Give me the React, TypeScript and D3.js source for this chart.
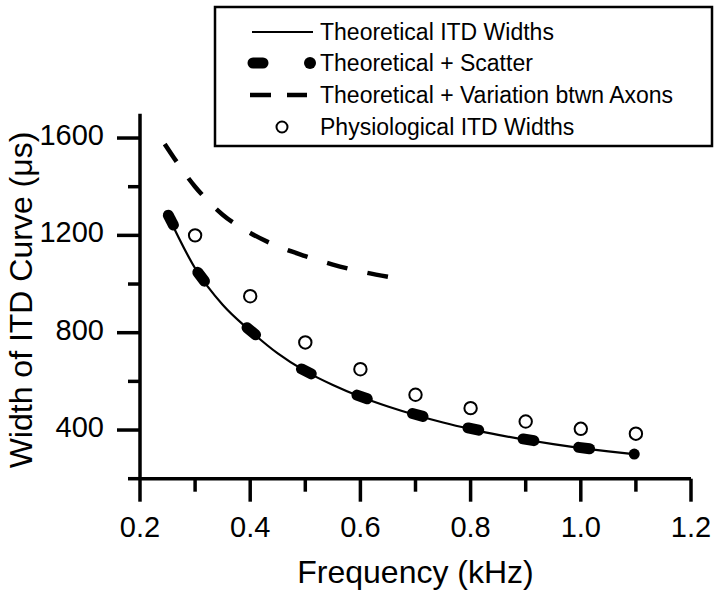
import React, { useRef, useLayoutEffect, useState } from 'react';
import * as d3 from 'd3';

// Theoretical ITD widths (solid line)
const theoFreq = [0.25, 0.3, 0.35, 0.4, 0.45, 0.5, 0.55, 0.6, 0.65, 0.7, 0.75, 0.8, 0.85, 0.9, 0.95, 1.0, 1.05, 1.1];
const theoWidth = [1285, 1065, 915, 808, 715, 642, 585, 537, 497, 462, 431, 404, 380, 360, 342, 326, 312, 300];

// Theoretical + Scatter (thick blobs along the curve)
const scatterFreq = [0.256, 0.311, 0.402, 0.502, 0.603, 0.704, 0.805, 0.905, 1.006, 1.097];
const scatterWidth = [1263, 1030, 806, 641, 536, 462, 404, 360, 326, 301];

// Theoretical + Variation btwn Axons (dashed)
const varFreq = [0.245, 0.3, 0.35, 0.4, 0.45, 0.5, 0.55, 0.6, 0.65];
const varWidth = [1575, 1400, 1285, 1210, 1155, 1115, 1080, 1052, 1030];

// Physiological ITD widths (open circles)
const physFreq = [0.3, 0.4, 0.5, 0.6, 0.7, 0.8, 0.9, 1.0, 1.1];
const physWidth = [1200, 950, 760, 650, 545, 490, 435, 405, 385];

const xMajorTicks = [0.2, 0.4, 0.6, 0.8, 1.0, 1.2];
const xMinorTicks = [0.3, 0.5, 0.7, 0.9, 1.1];
const yMajorTicks = [400, 800, 1200, 1600];
const yMinorTicks = [200, 600, 1000, 1400];

const legendLabels = [
  'Theoretical ITD Widths',
  'Theoretical + Scatter',
  'Theoretical + Variation btwn Axons',
  'Physiological ITD Widths',
];

const xTitle = 'Frequency (kHz)';
const yTitle = 'Width of ITD Curve (\u03BCs)';

const W = 720;
const H = 590;
const FONT = "'Liberation Sans', Arial, Helvetica, sans-serif";

export default function App() {
  const x = d3.scaleLinear().domain([0.2, 1.2]).range([140, 691]);
  const y = d3.scaleLinear().domain([200, 1700]).range([478.7, 113.7]);

  const line = d3
    .line<[number, number]>()
    .x((d) => x(d[0]))
    .y((d) => y(d[1]))
    .curve(d3.curveMonotoneX);

  const theoPts = theoFreq.map((f, i) => [f, theoWidth[i]] as [number, number]);
  const varPts = varFreq.map((f, i) => [f, varWidth[i]] as [number, number]);

  const varRef = useRef<SVGPathElement>(null);
  const [dash, setDash] = useState('22 17');
  useLayoutEffect(() => {
    const p = varRef.current;
    if (!p) return;
    const L = p.getTotalLength();
    const n = 7;
    const d = 21;
    const gap = (L - n * d) / (n - 1);
    setDash(`${d} ${gap.toFixed(2)}`);
  }, []);

  // tangent direction in pixel space from the theoretical curve
  const tangentAt = (f: number) => {
    let i = theoFreq.findIndex((t) => t >= f);
    if (i <= 0) i = 1;
    const x1 = x(theoFreq[i - 1]);
    const y1 = y(theoWidth[i - 1]);
    const x2 = x(theoFreq[i]);
    const y2 = y(theoWidth[i]);
    const len = Math.hypot(x2 - x1, y2 - y1);
    return [(x2 - x1) / len, (y2 - y1) / len];
  };

  const axisW = 3.5;
  const bottomY = y(200);
  const leftX = x(0.2);

  return (
    <svg
      width={W}
      height={H}
      style={{ position: 'absolute', left: 0, top: 0, background: '#fff' }}
      fontFamily={FONT}
    >
      <rect x={0} y={0} width={W} height={H} fill="#fff" />

      {/* axes */}
      <line x1={leftX} y1={y(1700)} x2={leftX} y2={bottomY} stroke="#000" strokeWidth={axisW} />
      <line x1={leftX} y1={bottomY} x2={x(1.2)} y2={bottomY} stroke="#000" strokeWidth={axisW} />

      {/* x ticks */}
      {xMajorTicks.map((t) => (
        <g key={'xM' + t}>
          <line x1={x(t)} x2={x(t)} y1={bottomY} y2={bottomY + 23} stroke="#000" strokeWidth={axisW} />
          <text x={x(t)} y={537} textAnchor="middle" fontSize={29} fill="#000">
            {t.toFixed(1)}
          </text>
        </g>
      ))}
      {xMinorTicks.map((t) => (
        <line key={'xm' + t} x1={x(t)} x2={x(t)} y1={bottomY} y2={bottomY + 13} stroke="#000" strokeWidth={axisW} />
      ))}

      {/* y ticks */}
      {yMajorTicks.map((t) => (
        <g key={'yM' + t}>
          <line x1={leftX - 23} x2={leftX} y1={y(t)} y2={y(t)} stroke="#000" strokeWidth={axisW} />
          <text x={104} y={y(t) + 7} textAnchor="end" fontSize={29} fill="#000">
            {t}
          </text>
        </g>
      ))}
      {yMinorTicks.map((t) => (
        <line key={'ym' + t} x1={leftX - 12} x2={leftX} y1={y(t)} y2={y(t)} stroke="#000" strokeWidth={axisW} />
      ))}

      {/* axis titles */}
      <text x={415.5} y={583} textAnchor="middle" fontSize={32} fill="#000">
        {xTitle}
      </text>
      <text
        transform={`translate(32, 300) rotate(-90)`}
        textAnchor="middle"
        fontSize={32}
        fill="#000"
      >
        {yTitle}
      </text>

      {/* theoretical solid line */}
      <path d={line(theoPts) || ''} fill="none" stroke="#000" strokeWidth={2.2} />

      {/* theoretical + scatter blobs */}
      {scatterFreq.map((f, i) => {
        const cx = x(f);
        const cy = y(scatterWidth[i]);
        if (i === scatterFreq.length - 1) {
          return <circle key={'sc' + i} cx={cx} cy={cy} r={5.5} fill="#000" />;
        }
        const [ux, uy] = tangentAt(f);
        const h = 5.5;
        return (
          <line
            key={'sc' + i}
            x1={cx - ux * h}
            y1={cy - uy * h}
            x2={cx + ux * h}
            y2={cy + uy * h}
            stroke="#000"
            strokeWidth={11}
            strokeLinecap="round"
          />
        );
      })}

      {/* variation dashed */}
      <path
        ref={varRef}
        d={line(varPts) || ''}
        fill="none"
        stroke="#000"
        strokeWidth={4.5}
        strokeDasharray={dash}
      />

      {/* physiological circles */}
      {physFreq.map((f, i) => (
        <circle key={'ph' + i} cx={x(f)} cy={y(physWidth[i])} r={6.2} fill="#fff" stroke="#000" strokeWidth={2} />
      ))}

      {/* legend */}
      <rect x={215} y={7} width={497} height={139} fill="#fff" stroke="#000" strokeWidth={2.5} />
      {legendLabels.map((lab, i) => {
        const cy = [32, 63, 95, 127][i];
        return (
          <g key={'lg' + i}>
            {i === 0 && <line x1={252} x2={313} y1={cy} y2={cy} stroke="#000" strokeWidth={2} />}
            {i === 1 && (
              <g>
                <line x1={253} x2={263} y1={cy} y2={cy} stroke="#000" strokeWidth={11} strokeLinecap="round" />
                <circle cx={310} cy={cy} r={6} fill="#000" />
              </g>
            )}
            {i === 2 && (
              <line x1={250} x2={307} y1={cy} y2={cy} stroke="#000" strokeWidth={4.5} strokeDasharray="21 16" />
            )}
            {i === 3 && <circle cx={282} cy={cy} r={5.5} fill="#fff" stroke="#000" strokeWidth={2} />}
            <text x={320} y={cy + 8} fontSize={23} fill="#000">
              {lab}
            </text>
          </g>
        );
      })}
    </svg>
  );
}
